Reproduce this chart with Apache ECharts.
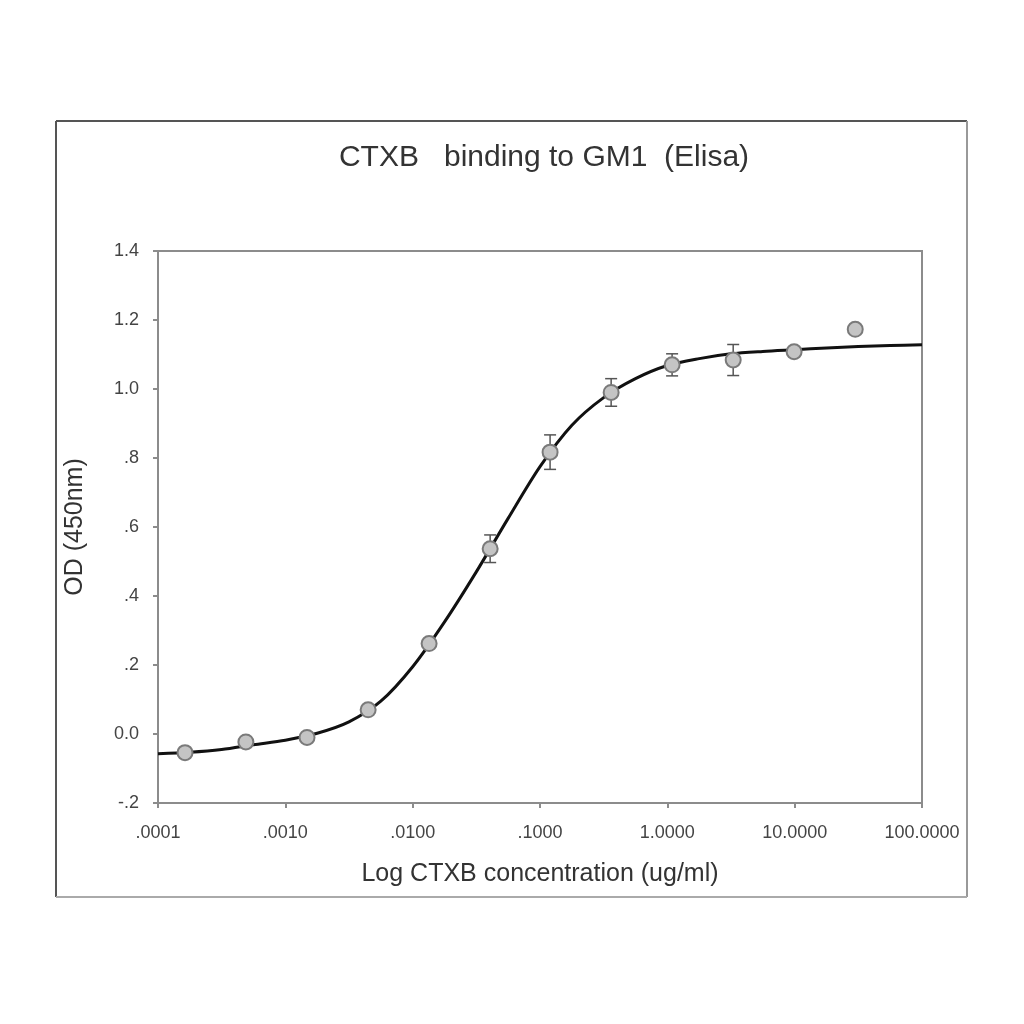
<!DOCTYPE html>
<html>
<head>
<meta charset="utf-8">
<script src="https://cdn.jsdelivr.net/npm/echarts@6/dist/echarts.min.js"></script>
<style>html,body{margin:0;padding:0;background:#fff;}#chart{width:1024px;height:1024px;}</style>
</head>
<body>
<div id="chart"></div>
<script>
// Measured data points (concentration ug/ml, OD 450nm, error)
var concentrations = [0.000163, 0.00049, 0.00148, 0.00447, 0.01346, 0.0406, 0.12, 0.362, 1.09, 3.29, 9.9, 29.9];
var odValues = [-0.054, -0.023, -0.010, 0.070, 0.262, 0.537, 0.817, 0.990, 1.070, 1.084, 1.108, 1.173];
var odErrors = [0.008, 0.012, 0.008, 0.010, 0.012, 0.040, 0.050, 0.040, 0.032, 0.045, 0.010, 0];

// Fitted curve
var curveX = [0.0001, 0.000178, 0.000316, 0.000562, 0.001, 0.00178, 0.00316, 0.00562, 0.01, 0.0178, 0.0316, 0.0562, 0.1, 0.178, 0.316, 0.562, 1, 1.78, 3.16, 5.62, 10, 17.8, 31.6, 56.2, 100];
var curveY = [-0.057, -0.053, -0.045, -0.031, -0.018, 0.002, 0.035, 0.095, 0.195, 0.325, 0.470, 0.625, 0.775, 0.895, 0.975, 1.030, 1.068, 1.088, 1.102, 1.109, 1.114, 1.119, 1.123, 1.126, 1.128];

// Tick labels
var xTickLabels = ['.0001', '.0010', '.0100', '.1000', '1.0000', '10.0000', '100.0000'];
var yTickLabels = ['-.2', '0.0', '.2', '.4', '.6', '.8', '1.0', '1.2', '1.4'];

var titleText = 'CTXB   binding to GM1  (Elisa)';
var xName = 'Log CTXB concentration (ug/ml)';
var yName = 'OD (450nm)';

var pointData = concentrations.map(function (c, i) { return [c, odValues[i]]; });
var errData = concentrations.map(function (c, i) { return [c, odValues[i] - odErrors[i], odValues[i] + odErrors[i]]; });
var curveData = curveX.map(function (c, i) { return [c, curveY[i]]; });

var chart = echarts.init(document.getElementById('chart'), null, {renderer: 'canvas'});
var font = 'Liberation Sans, Arial, sans-serif';
var option = {
  backgroundColor: '#ffffff',
  animation: false,
  graphic: [
    {type: 'line', shape: {x1: 56, y1: 121, x2: 967, y2: 121}, style: {stroke: '#555', lineWidth: 2}},
    {type: 'line', shape: {x1: 56, y1: 121, x2: 56, y2: 897}, style: {stroke: '#555', lineWidth: 2}},
    {type: 'line', shape: {x1: 967, y1: 121, x2: 967, y2: 897}, style: {stroke: '#999', lineWidth: 2}},
    {type: 'line', shape: {x1: 56, y1: 897, x2: 967, y2: 897}, style: {stroke: '#aaa', lineWidth: 2}},
    {type: 'text', x: 544, y: 158, style: {text: titleText, fontFamily: font, fontSize: 30, fill: '#333', textAlign: 'center', textVerticalAlign: 'middle'}}
  ],
  grid: {left: 158, right: 102, top: 251, bottom: 221, show: true, borderColor: '#8c8c8c', borderWidth: 2, backgroundColor: 'transparent'},
  xAxis: {
    type: 'log', logBase: 10, min: 0.0001, max: 100, splitNumber: 6,
    name: xName, nameLocation: 'middle', nameGap: 59,
    nameTextStyle: {fontFamily: font, fontSize: 25, color: '#333'},
    axisLine: {show: true, onZero: false, lineStyle: {color: '#8c8c8c', width: 2}},
    axisTick: {show: true, length: 5, lineStyle: {color: '#8c8c8c', width: 2}},
    minorTick: {show: false},
    splitLine: {show: false},
    axisLabel: {
      fontFamily: font, fontSize: 18, color: '#444', margin: 21,
      formatter: function (v) { var k = Math.round(Math.log10(v)) + 4; return xTickLabels[k] || ''; }
    }
  },
  yAxis: {
    type: 'value', min: -0.2, max: 1.4, interval: 0.2,
    name: yName, nameLocation: 'middle', nameGap: 70, nameRotate: 90,
    nameTextStyle: {fontFamily: font, fontSize: 25, color: '#333'},
    axisLine: {show: true, onZero: false, lineStyle: {color: '#8c8c8c', width: 2}},
    axisTick: {show: true, length: 5, lineStyle: {color: '#8c8c8c', width: 2}},
    splitLine: {show: false},
    axisLabel: {
      fontFamily: font, fontSize: 18, color: '#444', margin: 19,
      formatter: function (v) { var k = Math.round((v + 0.2) / 0.2); return yTickLabels[k] || ''; }
    }
  },
  series: [
    {
      type: 'line', data: curveData, smooth: 0.3, symbol: 'none',
      lineStyle: {color: '#111', width: 3}, z: 2
    },
    {
      type: 'custom', data: errData, z: 3,
      renderItem: function (params, api) {
        var x = api.value(0);
        var lo = api.coord([x, api.value(1)]);
        var hi = api.coord([x, api.value(2)]);
        var cap = 6;
        var st = {stroke: '#555', lineWidth: 1.5};
        return {type: 'group', children: [
          {type: 'line', shape: {x1: lo[0], y1: lo[1], x2: hi[0], y2: hi[1]}, style: st},
          {type: 'line', shape: {x1: lo[0] - cap, y1: lo[1], x2: lo[0] + cap, y2: lo[1]}, style: st},
          {type: 'line', shape: {x1: hi[0] - cap, y1: hi[1], x2: hi[0] + cap, y2: hi[1]}, style: st}
        ]};
      }
    },
    {
      type: 'scatter', data: pointData, symbol: 'circle', symbolSize: 15, z: 4,
      itemStyle: {color: '#c4c4c4', borderColor: '#7a7a7a', borderWidth: 2, opacity: 1}
    }
  ]
};
chart.setOption(option);
</script>
</body>
</html>
